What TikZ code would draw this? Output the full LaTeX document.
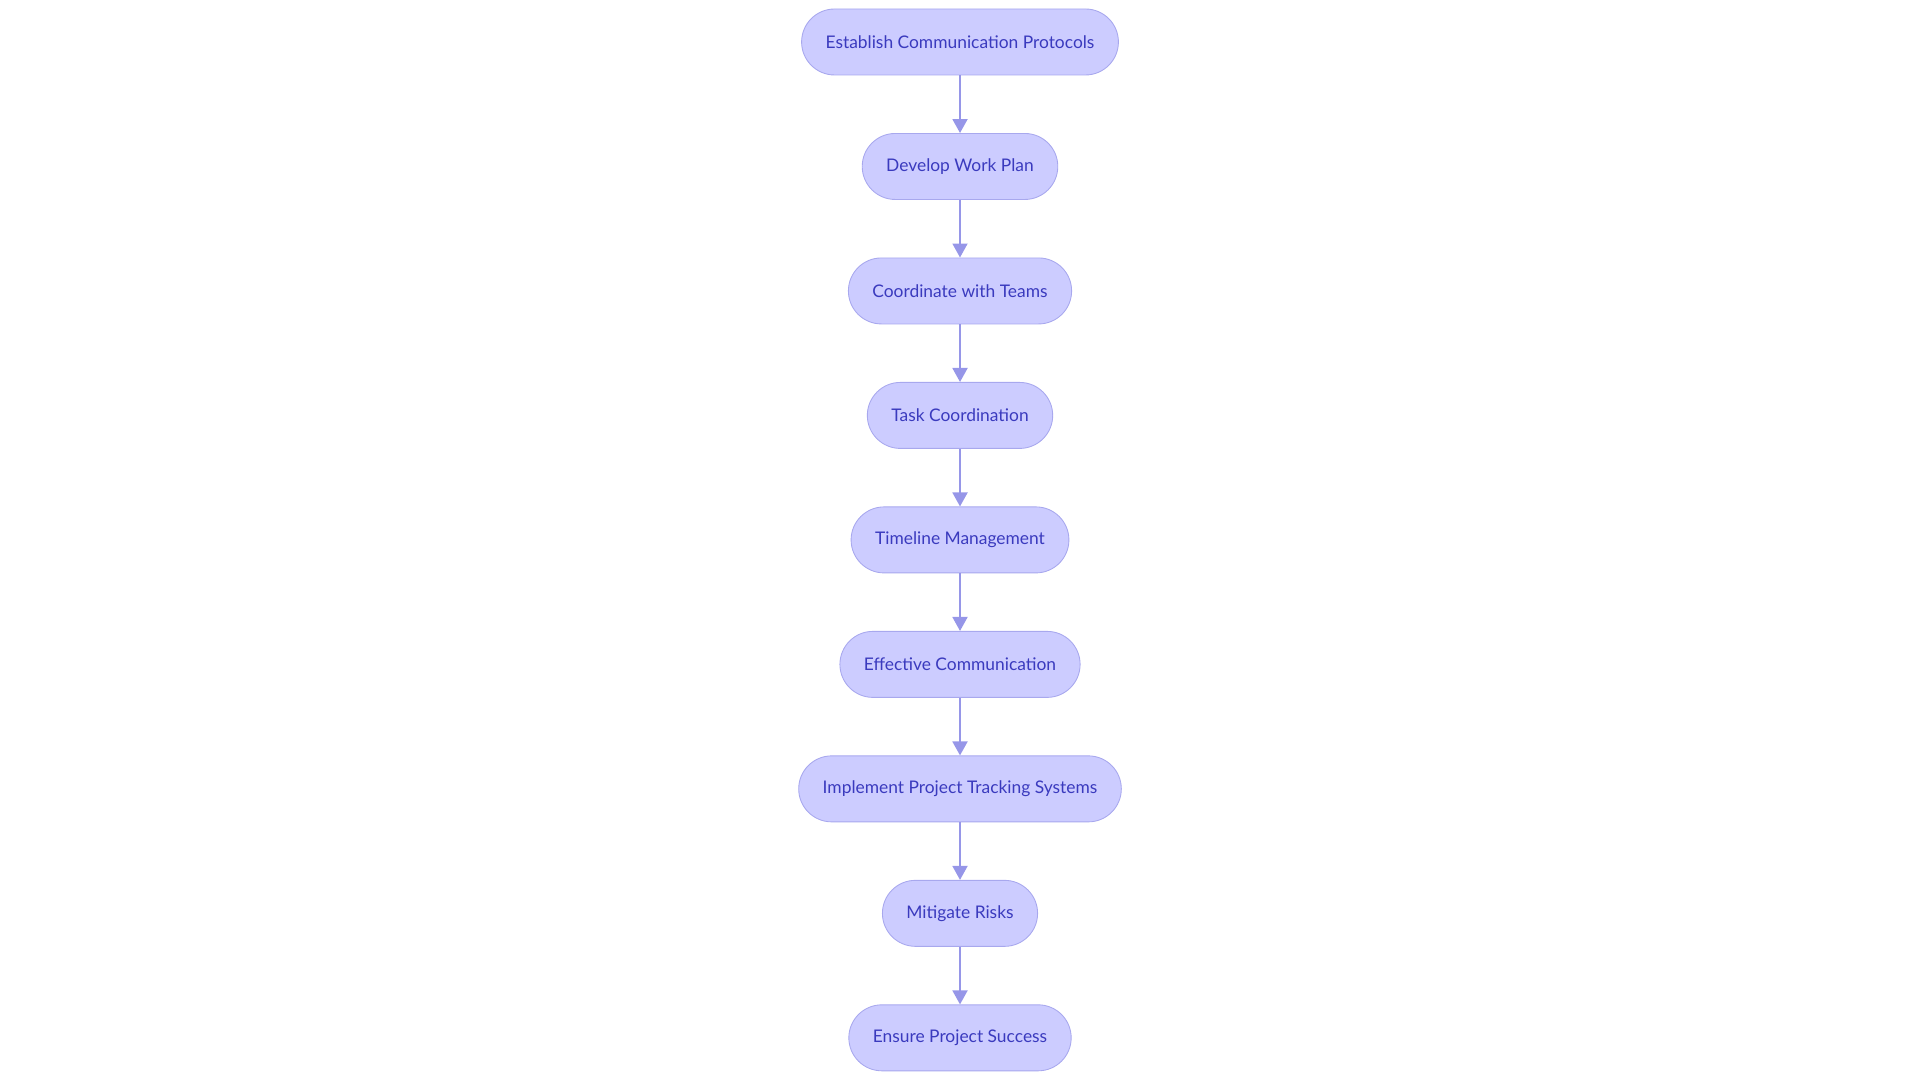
\documentclass[tikz,border=0pt]{standalone}
\usepackage{fontspec}
\setmainfont{Lato}
\usetikzlibrary{positioning,arrows.meta}
\definecolor{boxfill}{RGB}{204,204,255}
\definecolor{boxline}{RGB}{168,168,238}
\definecolor{boxtext}{RGB}{58,58,190}
\definecolor{flowline}{RGB}{150,150,232}

\begin{document}
\begin{tikzpicture}[
    stepbox/.style={draw=boxline, fill=boxfill, line width=0.5pt, rectangle, rounded corners=0.66cm,
        minimum height=1.32cm, inner xsep=0.48cm, text=boxtext, font=\fontsize{9.9}{11}\selectfont},
    flow/.style={draw=flowline, line width=1.1pt, -{Triangle[length=0.28cm, width=0.3cm]}},
    node distance=1.152cm
]
\useasboundingbox (0,0) rectangle (38.4,21.6);

% Define boxes
\node[stepbox] (protocols) at (19.2, 20.76) {Establish Communication Protocols};
\node[stepbox, below=of protocols] (workplan) {Develop Work Plan};
\node[stepbox, below=of workplan] (teams) {Coordinate with Teams};
\node[stepbox, below=of teams] (tasks) {Task Coordination};
\node[stepbox, below=of tasks] (timeline) {Timeline Management};
\node[stepbox, below=of timeline] (communication) {Effective Communication};
\node[stepbox, below=of communication] (tracking) {Implement Project Tracking Systems};
\node[stepbox, below=of tracking] (risks) {Mitigate Risks};
\node[stepbox, below=of risks] (success) {Ensure Project Success};

% Draw arrows
\draw[flow] (protocols.south) -- (workplan.north);
\draw[flow] (workplan.south) -- (teams.north);
\draw[flow] (teams.south) -- (tasks.north);
\draw[flow] (tasks.south) -- (timeline.north);
\draw[flow] (timeline.south) -- (communication.north);
\draw[flow] (communication.south) -- (tracking.north);
\draw[flow] (tracking.south) -- (risks.north);
\draw[flow] (risks.south) -- (success.north);

\end{tikzpicture}
\end{document}
